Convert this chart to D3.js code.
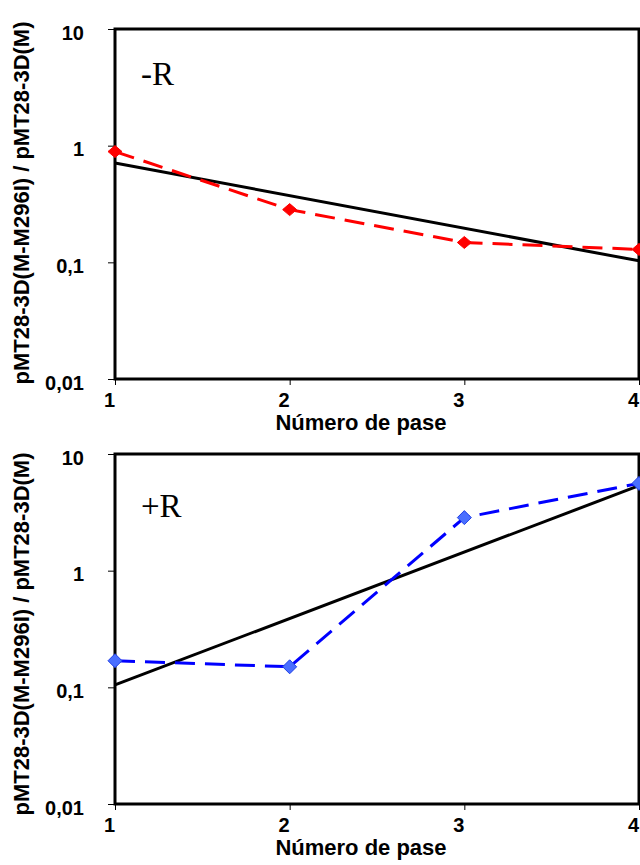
<!DOCTYPE html>
<html>
<head>
<meta charset="utf-8">
<script src="https://cdn.jsdelivr.net/npm/d3@7"></script>
<style>
  body { margin: 0; background: #fff; }
  svg { display: block; }
  .axis text { font-family: "Liberation Sans", Arial, sans-serif; font-weight: bold; font-size: 20px; fill: #000; }
  .axis path { display: none; }
  .axis line { stroke: #000; stroke-width: 1; }
</style>
</head>
<body>
<svg id="chart" width="640" height="865"></svg>
<script>
// passage numbers
var passes = [1, 2, 3, 4];
var yTicks = [0.01, 0.1, 1, 10];

// -R (red) ratio values
var minusR = [0.89, 0.283, 0.148, 0.129];
// +R (blue) ratio values
var plusR = [0.169, 0.150, 2.85, 5.6];

// exponential trend line ends (pass 1, pass 4)
var trendMinusR = [0.71, 0.103];
var trendPlusR = [0.105, 5.35];

var yTitle = "pMT28-3D(M-M296I) / pMT28-3D(M)";
var xTitle = "Número de pase";

var svg = d3.select("#chart");

var panels = [
    { label: "-R", values: minusR, trend: trendMinusR, top: 29, labelY: 56, titleY: 203,
      line: "#ff0000", fill: "#ff0000", edge: "#ff0000", hw: 7, hh: 6 },
    { label: "+R", values: plusR, trend: trendPlusR, top: 454, labelY: 63, titleY: 634,
      line: "#0000ff", fill: "#4a6fff", edge: "#1f3fe6", hw: 7, hh: 7 }
];

var left = 115, right = 639, plotH = 350;

function diamond(w, h) {
    return "M0," + (-h) + "L" + w + ",0L0," + h + "L" + (-w) + ",0Z";
}

panels.forEach(function (p) {
    var x = d3.scaleLinear().domain([1, 4]).range([left, right]);
    var y = d3.scaleLog().domain([0.01, 10]).range([p.top + plotH, p.top]);

    var g = svg.append("g");

    // y axis
    g.append("g")
        .attr("class", "axis")
        .attr("transform", "translate(" + left + ",0)")
        .call(d3.axisLeft(y)
            .tickValues(yTicks)
            .tickSize(7)
            .tickPadding(24)
            .tickFormat(function (d) { return String(d).replace(".", ","); }))
        .selectAll("text")
        .attr("dy", "0.5em");

    // x axis
    g.append("g")
        .attr("class", "axis")
        .attr("transform", "translate(0," + (p.top + plotH) + ")")
        .call(d3.axisBottom(x)
            .tickValues(passes)
            .tickSize(6)
            .tickPadding(8)
            .tickFormat(d3.format("d")))
        .selectAll("text")
        .attr("dx", -6);

    // frame
    g.append("rect")
        .attr("x", left)
        .attr("y", p.top)
        .attr("width", right - left)
        .attr("height", plotH)
        .attr("fill", "none")
        .attr("stroke", "#000")
        .attr("stroke-width", 3);

    // trend line
    g.append("line")
        .attr("x1", x(1)).attr("y1", y(p.trend[0]))
        .attr("x2", x(4)).attr("y2", y(p.trend[1]))
        .attr("stroke", "#000")
        .attr("stroke-width", 3);

    // data line
    var line = d3.line()
        .x(function (d, i) { return x(passes[i]); })
        .y(function (d) { return y(d); });

    g.append("path")
        .datum(p.values)
        .attr("d", line)
        .attr("fill", "none")
        .attr("stroke", p.line)
        .attr("stroke-width", 3)
        .attr("stroke-dasharray", "20,10");

    g.selectAll(".pt")
        .data(p.values)
        .enter()
        .append("path")
        .attr("class", "pt")
        .attr("d", diamond(p.hw, p.hh))
        .attr("transform", function (d, i) { return "translate(" + x(passes[i]) + "," + y(d) + ")"; })
        .attr("fill", p.fill)
        .attr("stroke", p.edge)
        .attr("stroke-width", 1);

    // panel label
    g.append("text")
        .attr("x", 141)
        .attr("y", p.top + p.labelY)
        .attr("font-family", "'Liberation Serif', 'Times New Roman', serif")
        .attr("font-size", 33)
        .text(p.label);

    // axis titles
    g.append("text")
        .attr("transform", "translate(29," + p.titleY + ") rotate(-90)")
        .attr("text-anchor", "middle")
        .attr("font-family", "'Liberation Sans', Arial, sans-serif")
        .attr("font-weight", "bold")
        .attr("font-size", 22)
        .text(yTitle);

    g.append("text")
        .attr("x", 361)
        .attr("y", p.top + plotH + 51)
        .attr("text-anchor", "middle")
        .attr("font-family", "'Liberation Sans', Arial, sans-serif")
        .attr("font-weight", "bold")
        .attr("font-size", 22)
        .text(xTitle);
});
</script>
</body>
</html>
